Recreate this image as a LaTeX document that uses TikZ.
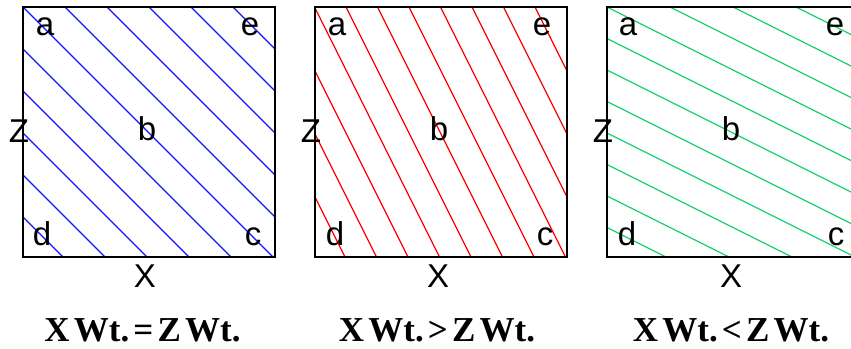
\documentclass[tikz,border=0pt]{standalone}
\usepackage{fontspec}
\newfontfamily\lsans{Liberation Sans}
\newfontfamily\lserif{Liberation Serif}
\definecolor{cblue}{RGB}{20,20,255}
\definecolor{cred}{RGB}{255,0,0}
\definecolor{cgreen}{RGB}{30,210,110}
\newcommand\capsp{\hspace{0.12em}}
\tikzset{
  frame/.style={draw=black, line width=2pt},
  contour/.style={line width=1.3pt},
  lab/.style={font={\lsans\fontsize{33}{33}\selectfont}, inner sep=0pt, anchor=base},
  captxt/.style={font={\lserif\bfseries\fontsize{35}{35}\selectfont}, inner sep=0pt, anchor=base}
}
\begin{document}
\begin{tikzpicture}[x=1pt,y=-1pt]
\clip (0,0) rectangle (851,348);
\useasboundingbox (0,0) rectangle (851,348);
\fill[white] (0,0) rectangle (851,348);
% ---------- panel 1 (blue, slope 1)
\begin{scope}
  \clip (23,7) rectangle (275,257);
  \foreach \k in {-5,...,5}
    \draw[contour, cblue] ({23+42*\k-300},{7-300}) -- ({23+42*\k+300},{7+300});
\end{scope}
\draw[frame] (23,7) rectangle (275,257);
\node[lab] (a1) at (45,35) {a};
\node[lab] (e1) at (250,35) {e};
\node[lab] (b1) at (147,140) {b};
\node[lab] (d1) at (42,245) {d};
\node[lab] (c1) at (253,245) {c};
\node[lab] (z1) at (19,142) {Z};
\node[lab] (x1) at (145,287) {X};
\node[captxt] (t1) at (142.5,341) {X\capsp Wt.\capsp=\capsp Z\capsp Wt.};
% ---------- panel 2 (red, slope 2)
\begin{scope}
  \clip (315,7) rectangle (567,257);
  \foreach \k in {-4,...,7}
    \draw[contour, cred] ({315+31.5*\k-150},{8-300}) -- ({315+31.5*\k+150},{8+300});
\end{scope}
\draw[frame] (315,7) rectangle (567,257);
\node[lab] (a2) at (337,35) {a};
\node[lab] (e2) at (542,35) {e};
\node[lab] (b2) at (439,140) {b};
\node[lab] (d2) at (335,245) {d};
\node[lab] (c2) at (545,245) {c};
\node[lab] (z2) at (311,142) {Z};
\node[lab] (x2) at (438,287) {X};
\node[captxt] (t2) at (437,341) {X\capsp Wt.\capsp>\capsp Z\capsp Wt.};
% ---------- panel 3 (green, slope 1/2)
\begin{scope}
  \clip (607,7) rectangle (859,257);
  \foreach \k in {-4,...,7}
    \draw[contour, cgreen] ({607-300},{7+31.5*\k-150}) -- ({607+300},{7+31.5*\k+150});
\end{scope}
\draw[frame] (607,7) rectangle (859,257);
\node[lab] (a3) at (628,35) {a};
\node[lab] (e3) at (835,35) {e};
\node[lab] (b3) at (731,140) {b};
\node[lab] (d3) at (627,245) {d};
\node[lab] (c3) at (836,245) {c};
\node[lab] (z3) at (603,142) {Z};
\node[lab] (x3) at (731,287) {X};
\node[captxt] (t3) at (731,341) {X\capsp Wt.\capsp<\capsp Z\capsp Wt.};
\end{tikzpicture}
\end{document}
